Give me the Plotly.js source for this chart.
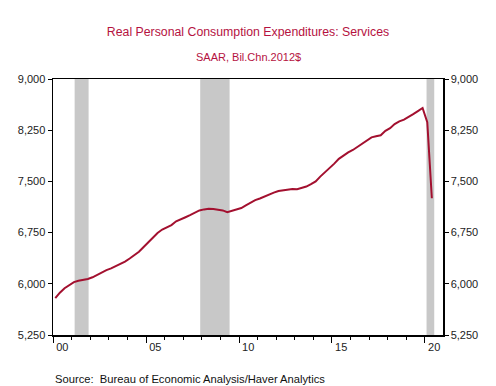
<!DOCTYPE html>
<html>
<head>
<meta charset="utf-8">
<script src="https://cdn.plot.ly/plotly-3.0.1.min.js"></script>
<style>html,body{margin:0;padding:0;background:#fff;}#chart{width:496px;height:386px;}</style>
</head>
<body>
<div id="chart"></div>
<script>
// Quarterly data, 2000Q1 - 2020Q2 (billions of chained 2012 $, SAAR)
const years = [2000,2001,2002,2003,2004,2005,2006,2007,2008,2009,2010,2011,2012,2013,2014,2015,2016,2017,2018,2019,2020];
const quarterMidMonths = ['02','05','08','11'];
const services = [
  5790, 5870, 5935, 5985,
  6025, 6045, 6055, 6070,
  6095, 6130, 6165, 6200,
  6225, 6255, 6290, 6325,
  6370, 6420, 6470, 6540,
  6610, 6680, 6745, 6795,
  6830, 6860, 6915, 6950,
  6975, 7005, 7045, 7075,
  7090, 7100, 7095, 7090,
  7075, 7050, 7070, 7085,
  7110, 7150, 7190, 7225,
  7250, 7280, 7310, 7335,
  7360, 7370, 7380, 7390,
  7385, 7400, 7425, 7460,
  7500, 7570, 7630, 7700,
  7760, 7830, 7880, 7925,
  7960, 8005, 8050, 8100,
  8145, 8160, 8175, 8240,
  8280, 8340, 8380, 8405,
  8440, 8485, 8530, 8575,
  8366, 7253
];
const recessionStart = ['2001-03-01','2007-12-01','2020-02-01'];
const recessionEnd   = ['2001-11-30','2009-06-30','2020-07-01'];
const yTicks = [5250, 6000, 6750, 7500, 8250, 9000];
const xLabelYears = [2000, 2005, 2010, 2015, 2020];
const xLabelText = ['00','05','10','15','20'];

const dates = [];
years.forEach(y => quarterMidMonths.forEach(m => dates.push(y + '-' + m + '-15')));
const xDates = dates.slice(0, services.length);

const lineColor = '#a3102f';
const titleColor = '#b5123f';
const font = 'Arial, "Liberation Sans", sans-serif';

const shapes = recessionStart.map((s, i) => ({
  type: 'rect', xref: 'x', yref: 'paper', x0: s, x1: recessionEnd[i], y0: 0, y1: 1,
  fillcolor: '#c8c8c8', line: {width: 0}, layer: 'below'
}));

const traces = [
  {x: xDates, y: services, type: 'scatter', mode: 'lines',
   line: {color: lineColor, width: 2}, hoverinfo: 'skip', showlegend: false},
  {x: [xDates[0]], y: [services[0]], xaxis: 'x2', yaxis: 'y2', type: 'scatter', mode: 'markers',
   marker: {opacity: 0}, hoverinfo: 'skip', showlegend: false}
];

const layout = {
  width: 496, height: 386,
  margin: {l: 53, r: 53, t: 79, b: 51},
  paper_bgcolor: '#fff', plot_bgcolor: '#fff',
  font: {family: font, size: 11, color: '#222'},
  title: {text: 'Real Personal Consumption Expenditures: Services',
          font: {family: font, size: 12.3, color: titleColor},
          x: 0.5, xanchor: 'center', y: 1 - 32/386, yanchor: 'middle'},
  xaxis: {
    type: 'date', range: ['2000-01-01', '2020-12-20'],
    tickvals: xLabelYears.map(y => y + '-01-01'), showticklabels: false,
    ticks: 'outside', ticklen: 6, tickcolor: '#000', tickwidth: 1,
    minor: {dtick: 'M12', ticks: 'outside', ticklen: 3, tickcolor: '#000', showgrid: false},
    showline: true, linecolor: '#000', linewidth: 1.5, mirror: true,
    showgrid: false, zeroline: false, fixedrange: true
  },
  xaxis2: {
    type: 'date', overlaying: 'x', matches: 'x', side: 'bottom', anchor: 'y',
    tickvals: xLabelYears.map(y => y + '-07-01'), ticktext: xLabelText,
    ticks: '', showline: false, showgrid: false, zeroline: false,
    tickfont: {family: font, size: 11, color: '#222'}, ticklabelstandoff: 4
  },
  yaxis: {
    range: [5250, 9000], tickvals: yTicks, tickformat: ',d',
    ticks: 'outside', ticklen: 4, tickcolor: '#000',
    showline: true, linecolor: '#000', linewidth: 1.5,
    showgrid: false, zeroline: false, fixedrange: true,
    tickfont: {family: font, size: 11, color: '#222'}
  },
  yaxis2: {
    overlaying: 'y', side: 'right', matches: 'y', anchor: 'x',
    tickvals: yTicks, tickformat: ',d',
    ticks: 'outside', ticklen: 4, tickcolor: '#000',
    showline: true, linecolor: '#000', linewidth: 1.5,
    showgrid: false, zeroline: false,
    tickfont: {family: font, size: 11, color: '#222'}
  },
  shapes: shapes,
  annotations: [
    {text: 'SAAR, Bil.Chn.2012$', xref: 'paper', yref: 'paper', x: 0.5, y: (335-57)/256,
     xanchor: 'center', yanchor: 'middle', showarrow: false,
     font: {family: font, size: 11, color: titleColor}},
    {text: 'Source:  Bureau of Economic Analysis/Haver Analytics', xref: 'paper', yref: 'paper',
     x: 0, y: (335-379)/256, xanchor: 'left', yanchor: 'middle', showarrow: false,
     font: {family: font, size: 11.2, color: '#111'}}
  ]
};

Plotly.newPlot('chart', traces, layout, {staticPlot: true, displayModeBar: false});
</script>
</body>
</html>
